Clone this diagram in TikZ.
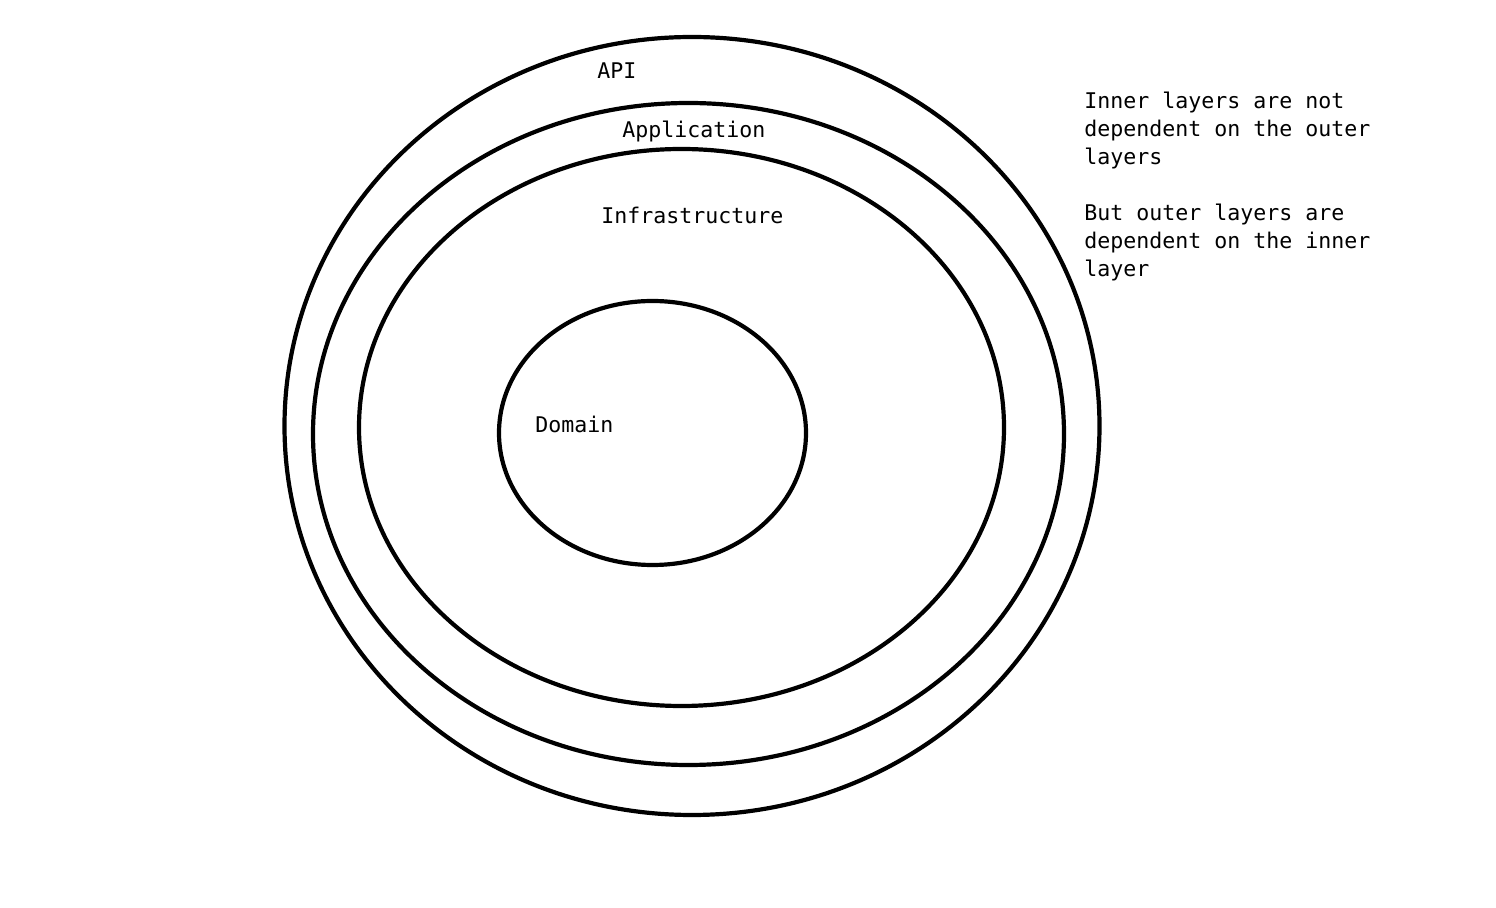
\documentclass[tikz,border=0pt]{standalone}
\usepackage{fontspec}
\setmonofont{DejaVu Sans Mono}
\usetikzlibrary{calc}

\begin{document}
\begin{tikzpicture}[x=0.5pt, y=-0.5pt,
    layer/.style={line width=2.1pt, black},
    label/.style={anchor=base west, inner sep=0pt, font=\ttfamily\fontsize{10.8}{14}\selectfont}]

    \useasboundingbox (0,0) rectangle (1496,908);

    % layers, outer to inner
    \draw[layer] (692,426) ellipse [x radius=407.5, y radius=389];
    \draw[layer] (688.5,434) ellipse [x radius=375.5, y radius=331];
    \draw[layer] (681.5,427.5) ellipse [x radius=322.5, y radius=278.5];
    \draw[layer] (652.5,433) ellipse [x radius=153.5, y radius=132];

    \node[label] (api) at (597,79) {API};
    \node[label] (app) at (622,138) {Application};
    \node[label] (infra) at (601,224) {Infrastructure};
    \node[label] (domain) at (535,433) {Domain};

    % note on the right
    \foreach \txt [count=\i] in {Inner layers are not, dependent on the outer, layers}{
        \node[label] (noteA\i) at (1084,81+28*\i) {\txt};
    }
    \foreach \txt [count=\i] in {But outer layers are, dependent on the inner, layer}{
        \node[label] (noteB\i) at (1084,193+28*\i) {\txt};
    }

\end{tikzpicture}
\end{document}
